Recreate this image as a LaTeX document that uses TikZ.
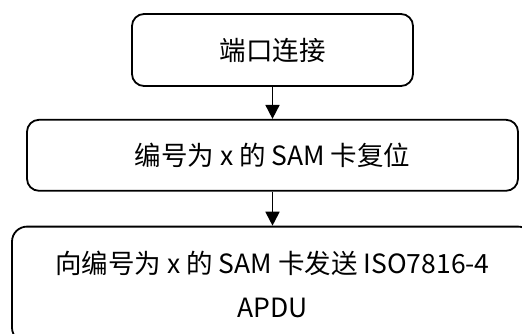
\documentclass[tikz,border=0pt]{standalone}
\usepackage{fontspec}
\usepackage{tikz}
\usetikzlibrary{arrows.meta,positioning}
\newfontfamily\cjk{Noto Sans CJK SC}

\begin{document}
\begin{tikzpicture}[
  x=1pt, y=1pt,
  stepbox/.style={draw, line width=1.8pt, rounded corners=12pt, align=center, font=\cjk\fontsize{26.5}{44}\selectfont, inner sep=0pt},
  arr/.style={-{Triangle[length=14pt, width=14pt]}, line width=1.8pt, black}
]
  \useasboundingbox (0,0) rectangle (522,333);
  \clip (0,0) rectangle (522,333);

  \node[stepbox, minimum width=281pt, minimum height=72pt] (connect) at (272.5,283) {端口连接};
  \node[stepbox, minimum width=491pt, minimum height=71pt, below=32pt of connect] (reset) {编号为 x 的 SAM 卡复位};
  \node[stepbox, rounded corners=15pt, minimum width=521pt, minimum height=116pt, below=34pt of reset] (apdu) {向编号为 x 的 SAM 卡发送 ISO7816-4\\APDU};

  \draw[arr] (connect) -- (reset);
  \draw[arr] (reset) -- (apdu);
\end{tikzpicture}
\end{document}
